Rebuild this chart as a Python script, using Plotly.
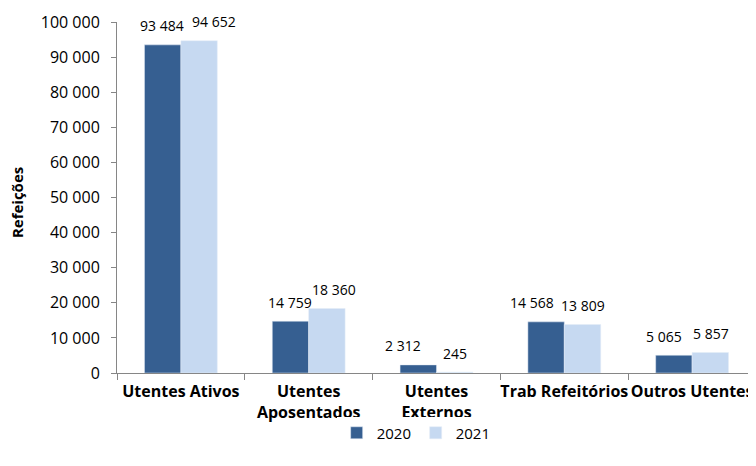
import plotly.graph_objects as go

categories = ["Utentes Ativos", "Utentes<br>Aposentados", "Utentes<br>Externos", "Trab Refeitórios", "Outros Utentes"]
v2020 = [93484, 14759, 2312, 14568, 5065]
v2021 = [94652, 18360, 245, 13809, 5857]
tick_vals = [0, 10000, 20000, 30000, 40000, 50000, 60000, 70000, 80000, 90000, 100000]

# label nudges (px) so neighbouring value labels do not collide, as in the original
nudge2020 = [0, 0, -15, -14, -10]
nudge2021 = [15, 7, 0, 0, 0]

FONT = "Open Sans"
HALF_BAR = 18.5

fig = go.Figure()
for vals, name, color in [(v2020, "2020", "#365f91"), (v2021, "2021", "#c6d9f1")]:
    fig.add_trace(go.Bar(x=categories, y=vals, name=name, marker_color=color))

annotations = []
for vals, nudges, side in [(v2020, nudge2020, -1), (v2021, nudge2021, 1)]:
    for c, v, n in zip(categories, vals, nudges):
        annotations.append(dict(x=c, y=v, xref="x", yref="y", text=f"{v:,}".replace(",", " "),
                                showarrow=False, xanchor="center", yanchor="middle",
                                xshift=side * HALF_BAR + n, yshift=19,
                                font=dict(size=14, family=FONT, color="#000")))
annotations.append(dict(text="<b>Refeições</b>", xref="paper", yref="paper",
                        x=-100 / 639, y=0.484, xanchor="center", yanchor="middle",
                        textangle=-90, showarrow=False, font=dict(size=15, family=FONT)))

fig.update_layout(
    width=748, height=458,
    margin=dict(l=109, r=0, t=14, b=93),
    paper_bgcolor="white", plot_bgcolor="white",
    separators=", ",
    barmode="group", bargap=0.43, bargroupgap=0,
    font=dict(family=FONT, size=15, color="#000"),
    legend=dict(orientation="h", xref="container", yref="container", x=0.545, y=0.072,
                xanchor="center", yanchor="middle", font=dict(size=15),
                itemwidth=30, entrywidth=34, entrywidthmode="pixels", traceorder="normal"),
    showlegend=True,
    annotations=annotations,
)
fig.update_xaxes(showline=True, linecolor="#868686", linewidth=1, ticks="outside",
                 tickson="boundaries", ticklen=6, tickcolor="#868686", automargin=False,
                 tickangle=0, ticklabelstandoff=4,
                 tickfont=dict(size=16, family=FONT, color="#000"))
fig.update_xaxes(tickvals=list(range(len(categories))),
                 ticktext=["<b>" + c.replace("<br>", "</b><br><b>") + "</b>" for c in categories])
fig.update_yaxes(range=[0, 100000], tickvals=tick_vals, tickformat=",d", automargin=False,
                 showline=True, linecolor="#868686", linewidth=1, ticks="outside",
                 ticklen=5, tickcolor="#868686", showgrid=False, zeroline=False,
                 ticklabelstandoff=8,
                 tickfont=dict(size=16, family=FONT, color="#000"))

fig.write_html("out.html")
